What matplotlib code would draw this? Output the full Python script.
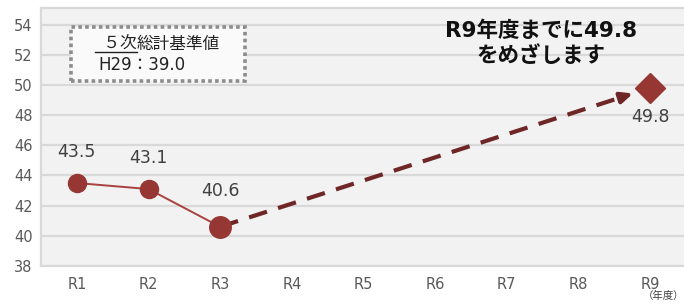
import matplotlib
matplotlib.use("Agg")
import matplotlib.pyplot as plt
import numpy as np
from matplotlib.patches import Rectangle

plt.rcParams['font.family'] = ['DejaVu Sans', 'Noto Sans CJK JP']

years = ['R1', 'R2', 'R3', 'R4', 'R5', 'R6', 'R7', 'R8', 'R9']
actual = [43.5, 43.1, 40.6]
target = 49.8
baseline_label = 'H29：39.0'
yticks = list(range(38, 55, 2))

x = np.arange(len(years))
xa = x[:len(actual)]
xt = x[-1]

fig = plt.figure(figsize=(6.84, 3.05), dpi=100)
ax = fig.add_axes([41/684, 39/305, 645/684, 258/305])
ax.set_facecolor('#f2f2f2')
ax.set_xlim(-0.5, len(years) - 0.5)
ax.set_ylim(38, 55.1)
ax.set_yticks(yticks)
ax.set_xticks(x)
ax.set_xticklabels(years)
ax.grid(axis='y', color='#d9d9d9', lw=1.6)
ax.set_axisbelow(True)
for s in ['left', 'bottom', 'top']:
    ax.spines[s].set_color('#d9d9d9')
    ax.spines[s].set_linewidth(1.6)
ax.spines['right'].set_visible(False)
ax.tick_params(length=0, labelsize=10.5, colors='#595959', pad=8)
ax.tick_params(axis='y', pad=6)

red = '#963734'
dark = '#6e2626'

# actual line
ax.plot(xa, actual, color='#a8423f', lw=1.4, zorder=3)
ax.plot(xa[:-1], actual[:-1], 'o', color=red, ms=13, zorder=4)
ax.plot(xa[-1:], actual[-1:], 'o', color=red, ms=15.5, zorder=4)

# dashed projection with arrow
x0, y0 = xa[-1], actual[-1]
frac_end = 0.96
xe = x0 + (xt - x0) * frac_end
ye = y0 + (target - y0) * frac_end
frac_line = 0.935
xl = x0 + (xt - x0) * frac_line
yl = y0 + (target - y0) * frac_line
ax.plot([x0, xl], [y0, yl], color=dark, lw=3, dashes=(4.5, 2.8), zorder=2,
        solid_capstyle='butt', dash_capstyle='butt')
ax.annotate('', xy=(xe, ye), xytext=(xl, yl),
            arrowprops=dict(arrowstyle='-|>,head_length=0.7,head_width=0.32',
                            color=dark, lw=3, shrinkA=0, shrinkB=0), zorder=2)

ax.plot([xt], [target], 'D', color=red, ms=15, zorder=4)

# value labels
offsets = [22, 22.5, 25.5]
for xi, v, off in zip(xa, actual, offsets):
    ax.annotate(f'{v:.1f}', (xi, v), xytext=(0, off), textcoords='offset points',
                ha='center', va='center', fontsize=12.5, color='#404040')
ax.annotate(f'{target:.1f}', (xt, target), xytext=(0, -21), textcoords='offset points',
            ha='center', va='center', fontsize=12.5, color='#404040')

# title text
fig.text(541/684, 1 - 31/305, f'R9年度までに{target}', ha='center', va='center',
         fontsize=15.5, fontweight='bold', color='#111111')
fig.text(541/684, 1 - 56/305, 'をめざします', ha='center', va='center',
         fontsize=15.5, fontweight='bold', color='#111111')

# baseline box
box = Rectangle((71/684, 1 - 81/305), 174/684, 54/305, transform=fig.transFigure,
                facecolor='#fafafa', edgecolor='#8c8c8c', lw=2.6,
                linestyle=(0, (1, 0.9)), zorder=5)
fig.patches.append(box)
t1 = fig.text(95/684, 1 - 44/305, '\u2002５次', ha='left', va='center', fontsize=12,
              color='#222222', zorder=6)
t2 = fig.text(0, 0, '総計基準値', fontsize=12, color='#222222', zorder=6)
fig.canvas.draw()
r = fig.canvas.get_renderer()
bb = t1.get_window_extent(r)
t2.set_position((bb.x1 / fig.bbox.width, 1 - 44/305))
t2.set_va('center')
uy = (bb.y0 + 1) / fig.bbox.height
fig.add_artist(plt.Line2D([bb.x0 / fig.bbox.width, bb.x1 / fig.bbox.width], [uy, uy],
                          transform=fig.transFigure, color='#222222', lw=1, zorder=6))
fig.text(98/684, 1 - 65/305, baseline_label, ha='left', va='center', fontsize=12,
         color='#222222', zorder=6)

fig.text(684/684, 1 - 296/305, '（年度）', ha='right', va='center', fontsize=7.5,
         color='#404040')

fig.savefig('out.png', dpi=100)
